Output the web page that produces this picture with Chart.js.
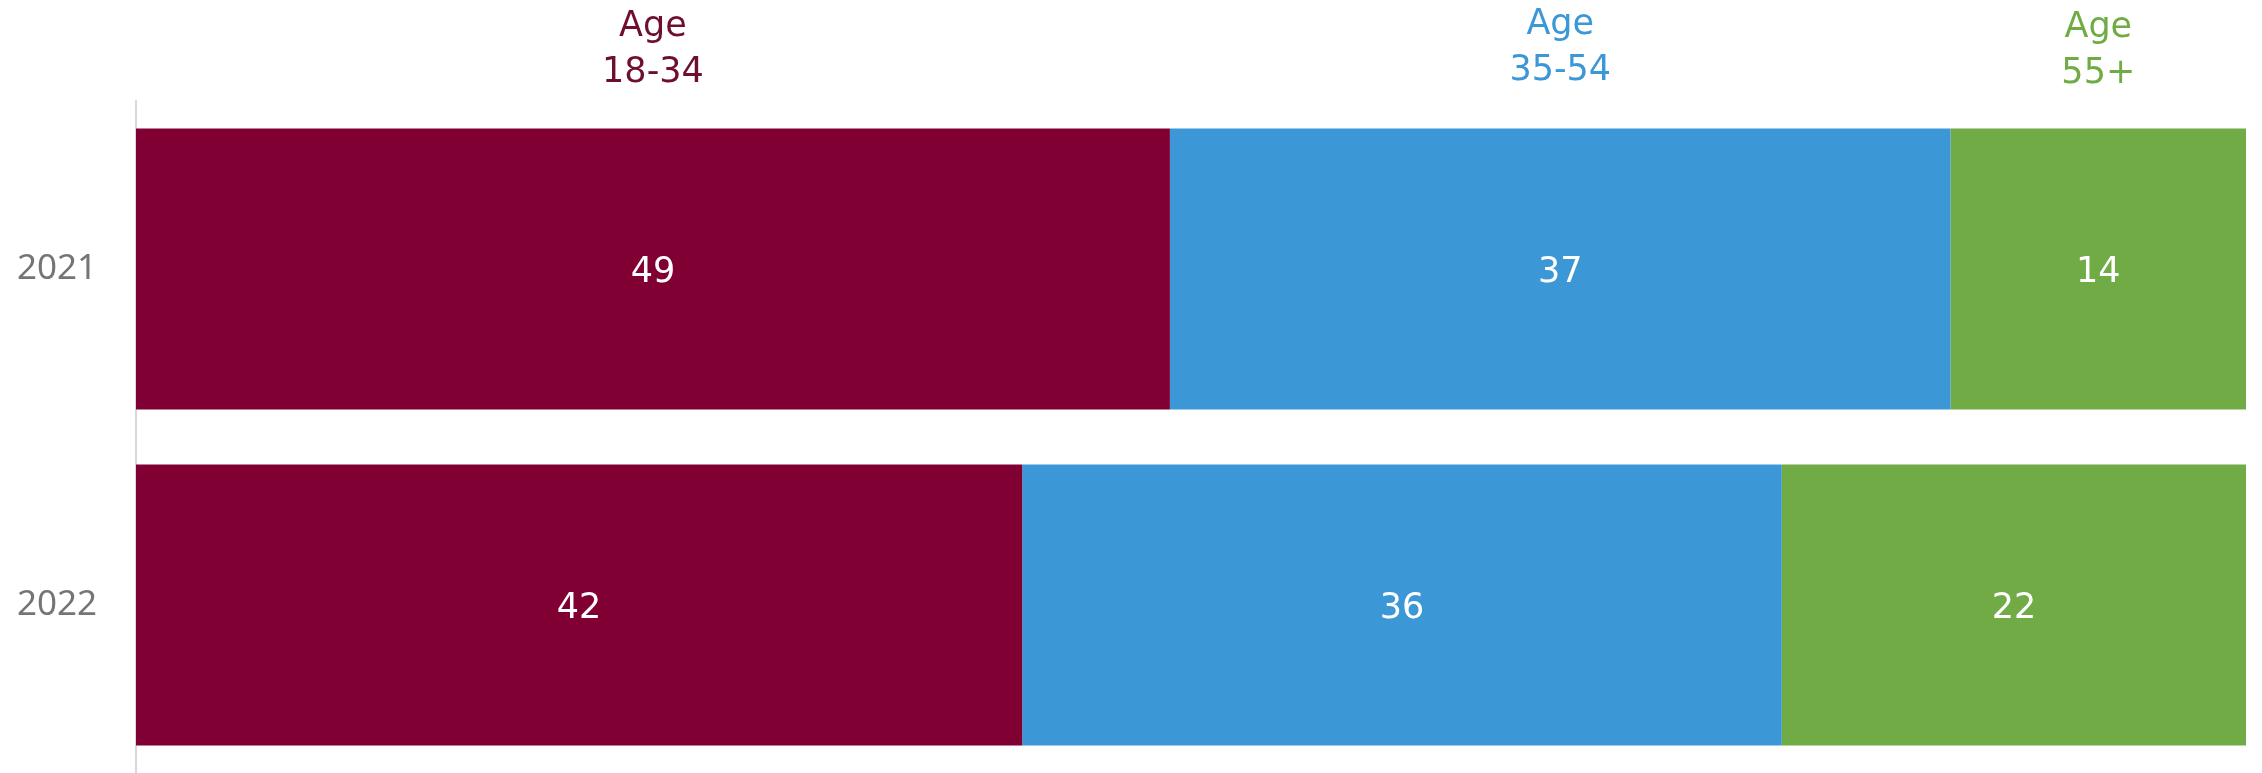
<!DOCTYPE html>
<html>
<head>
<meta charset="utf-8">
<script src="https://cdn.jsdelivr.net/npm/chart.js@4"></script>
<style>
    html, body { margin: 0; padding: 0; background: #fff; overflow: hidden; }
    canvas { display: block; width: 2262px; height: 773px; }
</style>
</head>
<body>
<canvas id="chart" width="2262" height="773"></canvas>
<script>
// dados
const years = ['2021', '2022'];
const groupNames = [['Age', '18-34'], ['Age', '35-54'], ['Age', '55+']];
const age18to34 = [49, 42];
const age35to54 = [37, 36];
const age55plus = [14, 22];

const barColors = ['#800034', '#3C97D7', '#70AB46'];
const headerColors = ['#6E0E30', '#3C97D7', '#70AB46'];
const headerBaselines = [36, 34, 37];
const valueFont = '35px "DejaVu Sans"';

// rótulos dentro das barras
const valueLabels = {
    id: 'valueLabels',
    afterDatasetsDraw(chart) {
        const ctx = chart.ctx;
        ctx.save();
        ctx.font = valueFont;
        ctx.fillStyle = '#ffffff';
        ctx.textAlign = 'center';
        ctx.textBaseline = 'middle';
        chart.data.datasets.forEach((ds, i) => {
            chart.getDatasetMeta(i).data.forEach((bar, j) => {
                const cx = (bar.x + bar.base) / 2;
                ctx.fillText(String(ds.data[j]), cx, bar.y + 4);
            });
        });
        ctx.restore();
    }
};

// cabeçalhos por cima da primeira barra
const groupHeaders = {
    id: 'groupHeaders',
    afterDraw(chart) {
        const ctx = chart.ctx;
        ctx.save();
        ctx.font = valueFont;
        ctx.textAlign = 'center';
        ctx.textBaseline = 'alphabetic';
        chart.data.datasets.forEach((ds, i) => {
            const bar = chart.getDatasetMeta(i).data[0];
            const cx = (bar.x + bar.base) / 2;
            ctx.fillStyle = headerColors[i];
            ctx.fillText(groupNames[i][0], cx, headerBaselines[i]);
            ctx.fillText(groupNames[i][1], cx, headerBaselines[i] + 46);
        });
        ctx.restore();
    }
};

const datasets = [age18to34, age35to54, age55plus].map((values, i) => ({
    label: groupNames[i].join(' '),
    data: values,
    backgroundColor: barColors[i],
    borderWidth: 0,
    barPercentage: 0.836,
    categoryPercentage: 1
}));

new Chart(document.getElementById('chart'), {
    type: 'bar',
    data: { labels: years, datasets: datasets },
    options: {
        indexAxis: 'y',
        responsive: false,
        devicePixelRatio: 1,
        animation: false,
        layout: { padding: { top: 101, right: 16, bottom: 0, left: 0 } },
        plugins: {
            legend: { display: false },
            tooltip: { enabled: false }
        },
        scales: {
            x: {
                stacked: true,
                display: false,
                min: 0,
                max: 100
            },
            y: {
                stacked: true,
                grid: { display: false },
                border: { display: true, color: '#D9D9D9', width: 2 },
                ticks: {
                    color: '#757575',
                    font: { family: '"Noto Sans"', size: 35 },
                    padding: 31
                },
                afterFit(scale) {
                    // largura fixa e sem folga vertical do padding dos ticks
                    scale.width = 136;
                    scale.paddingTop = 0;
                    scale.paddingBottom = 0;
                }
            }
        }
    },
    plugins: [valueLabels, groupHeaders]
});
</script>
</body>
</html>
